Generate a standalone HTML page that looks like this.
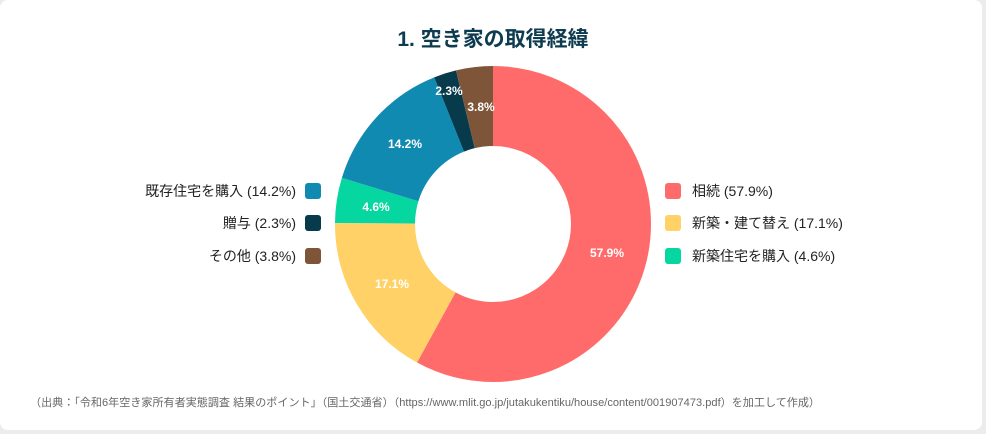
<!DOCTYPE html>
<html><head><meta charset="utf-8"><style>
body{margin:0;background:#ececec;font-family:"Liberation Sans","Noto Sans CJK JP",sans-serif;}
.card{position:absolute;left:0;top:0;width:982px;height:430px;background:#fff;border-radius:8px;}
svg text{font-family:"Liberation Sans","Noto Sans CJK JP",sans-serif;}
</style></head><body>
<div class="card"></div>
<svg width="986" height="434" style="position:absolute;left:0;top:0">
<text x="493" y="46" text-anchor="middle" font-size="21" font-weight="bold" fill="#0d3b4f">1. 空き家の取得経緯</text>
<g transform="rotate(-90 493 224)" fill="none" stroke-width="80">
<circle cx="493" cy="224" r="118" stroke="#ff6b6b" stroke-dasharray="429.71 741.42" stroke-dashoffset="0"/>
<circle cx="493" cy="224" r="118" stroke="#ffd166" stroke-dasharray="126.91 741.42" stroke-dashoffset="-429.71"/>
<circle cx="493" cy="224" r="118" stroke="#06d6a0" stroke-dasharray="34.14 741.42" stroke-dashoffset="-556.62"/>
<circle cx="493" cy="224" r="118" stroke="#118ab2" stroke-dasharray="105.39 741.42" stroke-dashoffset="-590.76"/>
<circle cx="493" cy="224" r="118" stroke="#073b4c" stroke-dasharray="17.07 741.42" stroke-dashoffset="-696.15"/>
<circle cx="493" cy="224" r="118" stroke="#7f5539" stroke-dasharray="28.20 741.42" stroke-dashoffset="-713.22"/>
</g>
<g font-size="12" font-weight="bold" fill="#fff" text-anchor="middle">
<text x="607" y="257">57.9%</text>
<text x="392" y="288">17.1%</text>
<text x="376" y="211">4.6%</text>
<text x="405" y="148">14.2%</text>
<text x="449" y="95">2.3%</text>
<text x="481" y="111">3.8%</text>
</g>
<g font-size="14" fill="#222">
<rect x="665" y="183" width="16" height="16" rx="3" fill="#ff6b6b"/><text x="692" y="196">相続 (57.9%)</text>
<rect x="665" y="215" width="16" height="16" rx="3" fill="#ffd166"/><text x="692" y="228">新築・建て替え (17.1%)</text>
<rect x="665" y="248" width="16" height="16" rx="3" fill="#06d6a0"/><text x="692" y="261">新築住宅を購入 (4.6%)</text>
<rect x="305" y="183" width="16" height="16" rx="3" fill="#118ab2"/><text x="296" y="196" text-anchor="end">既存住宅を購入 (14.2%)</text>
<rect x="305" y="215" width="16" height="16" rx="3" fill="#073b4c"/><text x="296" y="228" text-anchor="end">贈与 (2.3%)</text>
<rect x="305" y="248" width="16" height="16" rx="3" fill="#7f5539"/><text x="296" y="261" text-anchor="end">その他 (3.8%)</text>
</g>
<text x="30" y="406" font-size="11" fill="#666" textLength="790" lengthAdjust="spacingAndGlyphs">（出典：「令和6年空き家所有者実態調査 結果のポイント」（国土交通省）（https://www.mlit.go.jp/jutakukentiku/house/content/001907473.pdf）を加工して作成）</text>
</svg>
</body></html>
